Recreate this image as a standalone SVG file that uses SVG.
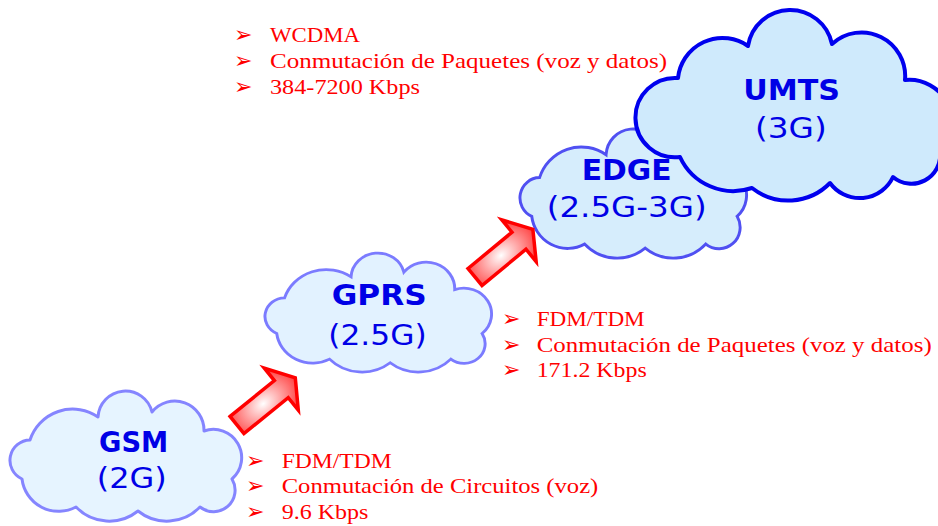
<svg xmlns="http://www.w3.org/2000/svg" width="938" height="526" viewBox="0 0 938 526">
  <style>
    .cloud { stroke-width: 3; stroke-linejoin: round; }
    .t-bold { font-family: "DejaVu Sans", Verdana, sans-serif; font-weight: bold; font-size: 28px; fill: #0000e6; }
    .t-norm { font-family: "DejaVu Sans", Verdana, sans-serif; font-size: 28px; fill: #0000e6; }
    .item { font-family: "Liberation Serif", "Times New Roman", serif; font-size: 22px; fill: #ff0000; }
    .bul { font-family: "DejaVu Sans", sans-serif; font-size: 22px; fill: #ff0000; }
  </style>
  <defs>
    <path id="cloudShape" d="M12,88 A20.4,20.4 0 0 1 20,49 A44.8,44.8 0 0 1 88,26 A27.4,27.4 0 0 1 142,21 A29.2,29.2 0 0 1 194,40 A28.3,28.3 0 0 1 222,88 A21.6,21.6 0 0 1 190,116 A46,46 0 0 1 128,120 A46,46 0 0 1 66,116 A36.9,36.9 0 0 1 12,88 Z"/>
    <radialGradient id="arrowGrad" cx="0.45" cy="0.5" r="0.55">
      <stop offset="0" stop-color="#ffffff"/>
      <stop offset="1" stop-color="#ff4040"/>
    </radialGradient>
    <path id="arrowShape" d="M0,-11 L57,-11 L57,-27 L75,0 L57,27 L57,11 L0,11 Z" fill="url(#arrowGrad)" stroke="#ff0000" stroke-width="3.5" stroke-linejoin="miter"/>
  </defs>

  <g id="gsm">
    <use href="#cloudShape" class="cloud" transform="translate(10,391)" fill="#e6f4ff" stroke="#8585ff"/>
    <text class="t-bold" x="99" y="451.7" textLength="69.3" lengthAdjust="spacingAndGlyphs">GSM</text>
    <text class="t-norm" x="96.7" y="488.3" textLength="70" lengthAdjust="spacingAndGlyphs">(2G)</text>
  </g>

  <g id="gprs">
    <g transform="translate(265,253) scale(0.978,0.915)">
      <use href="#cloudShape" fill="#e2f2ff" stroke="#7b7bff" stroke-width="3" vector-effect="non-scaling-stroke"/>
    </g>
    <text class="t-bold" x="331.7" y="305" textLength="95" lengthAdjust="spacingAndGlyphs">GPRS</text>
    <text class="t-norm" x="328.3" y="345" textLength="98.3" lengthAdjust="spacingAndGlyphs">(2.5G)</text>
  </g>

  <g id="edge">
    <g transform="translate(520,129) scale(0.978,0.992)">
      <use href="#cloudShape" fill="#d6edfc" stroke="#5050f2" stroke-width="3" vector-effect="non-scaling-stroke"/>
    </g>
    <text class="t-bold" x="581.7" y="180" textLength="90" lengthAdjust="spacingAndGlyphs">EDGE</text>
    <text class="t-norm" x="546.7" y="216.7" textLength="160" lengthAdjust="spacingAndGlyphs">(2.5G-3G)</text>
  </g>

  <g id="umts">
    <path d="M678,78 A44.7,44.7 0 0 1 748,46 A42.7,42.7 0 0 1 832,44 A43.6,43.6 0 0 1 905,80 A42.6,42.6 0 0 1 940,152 A28.7,28.7 0 0 1 893,177 A36.8,36.8 0 0 1 830,183 A58.5,58.5 0 0 1 752,188 A58.7,58.7 0 0 1 680,157 A39.7,39.7 0 1 1 678,78 Z" fill="#cfeafc" stroke="#0000ee" stroke-width="4" stroke-linejoin="round"/>
    <text class="t-bold" x="743.3" y="100" textLength="96.7" lengthAdjust="spacingAndGlyphs">UMTS</text>
    <text class="t-norm" x="755" y="138.3" textLength="71.7" lengthAdjust="spacingAndGlyphs">(3G)</text>
  </g>

  <g id="connectors">
    <use href="#arrowShape" transform="translate(237,425) rotate(-39)"/>
    <use href="#arrowShape" transform="translate(475,277) rotate(-39.5)"/>
  </g>

  <g id="umts-notes">
    <text class="bul" x="234" y="41.5">➢</text>
    <text class="bul" x="234" y="68">➢</text>
    <text class="bul" x="234" y="94">➢</text>
    <text class="item" x="270" y="41.7" textLength="90" lengthAdjust="spacingAndGlyphs">WCDMA</text>
    <text class="item" x="270" y="68.3" textLength="397" lengthAdjust="spacingAndGlyphs">Conmutación de Paquetes (voz y datos)</text>
    <text class="item" x="270" y="94" textLength="150" lengthAdjust="spacingAndGlyphs">384-7200 Kbps</text>
  </g>

  <g id="gprs-notes">
    <text class="bul" x="502" y="326">➢</text>
    <text class="bul" x="502" y="351.7">➢</text>
    <text class="bul" x="502" y="377.3">➢</text>
    <text class="item" x="536.7" y="326" textLength="108" lengthAdjust="spacingAndGlyphs">FDM/TDM</text>
    <text class="item" x="536.7" y="351.7" textLength="395" lengthAdjust="spacingAndGlyphs">Conmutación de Paquetes (voz y datos)</text>
    <text class="item" x="536.7" y="377.3" textLength="110" lengthAdjust="spacingAndGlyphs">171.2 Kbps</text>
  </g>

  <g id="gsm-notes">
    <text class="bul" x="246" y="467.7">➢</text>
    <text class="bul" x="246" y="493.3">➢</text>
    <text class="bul" x="246" y="519">➢</text>
    <text class="item" x="281.7" y="467.7" textLength="110" lengthAdjust="spacingAndGlyphs">FDM/TDM</text>
    <text class="item" x="281.7" y="493.3" textLength="316.6" lengthAdjust="spacingAndGlyphs">Conmutación de Circuitos (voz)</text>
    <text class="item" x="281.7" y="519" textLength="86.6" lengthAdjust="spacingAndGlyphs">9.6 Kbps</text>
  </g>
</svg>
